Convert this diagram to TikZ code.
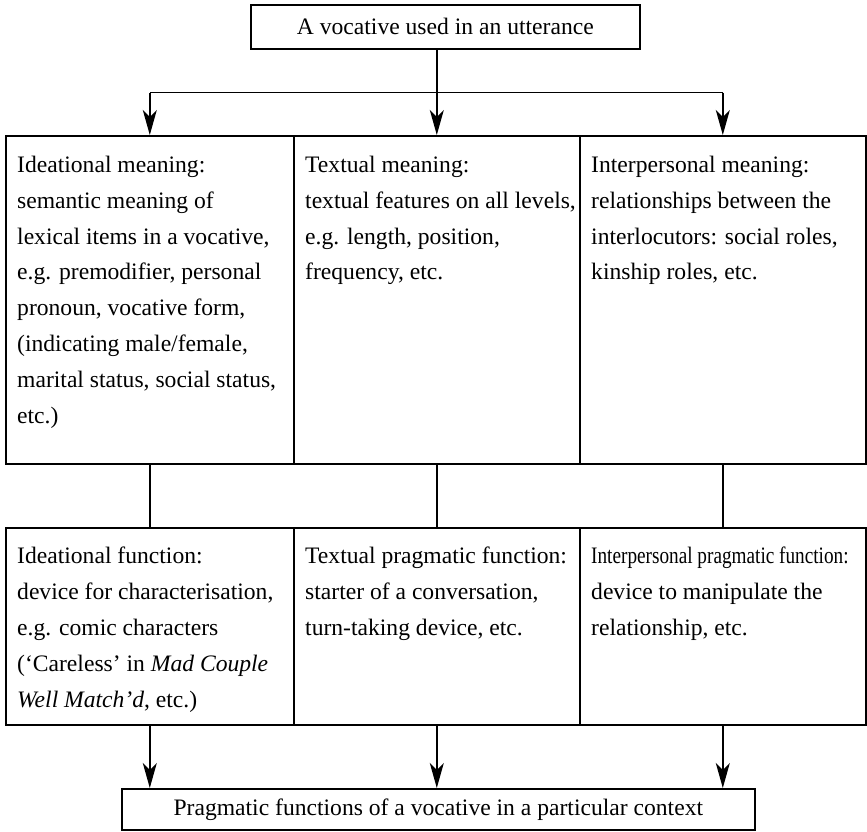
\documentclass[tikz,border=0pt]{standalone}
\usepackage{fontspec}
\setmainfont{Liberation Serif}
\usetikzlibrary{arrows.meta}
\begin{document}
\begin{tikzpicture}[x=1pt,y=-1pt,
  box/.style={draw, line width=1.6pt, inner sep=0pt, anchor=north west},
  txt/.style={anchor=north west, inner sep=0pt, align=left, font=\fontsize{23.6pt}{35.8pt}\selectfont},
  conn/.style={line width=1.6pt},
  arr/.style={conn, -{Stealth[length=25pt,width=14pt,inset=7pt]}}]
\useasboundingbox (0,0) rectangle (867,831);
% boxes
\node[box, minimum width=389pt, minimum height=44pt, font=\fontsize{23.6pt}{28pt}\selectfont] (top) at (250,4) {A vocative used in an utterance};
\node[box, minimum width=288pt, minimum height=328pt] (ul) at (5,135) {};
\node[box, minimum width=286pt, minimum height=328pt] (um) at (293,135) {};
\node[box, minimum width=286pt, minimum height=328pt] (ur) at (579,135) {};
\node[box, minimum width=288pt, minimum height=197pt] (ll) at (5,527) {};
\node[box, minimum width=286pt, minimum height=197pt] (lm) at (293,527) {};
\node[box, minimum width=286pt, minimum height=197pt] (lr) at (579,527) {};
\node[box, minimum width=633pt, minimum height=41pt, font=\fontsize{23.6pt}{28pt}\selectfont] (bot) at (121,788) {Pragmatic functions of a vocative in a particular context};
% texts
\node[txt] (ult) at (17,156) {Ideational meaning:\\semantic meaning of\\lexical items in a vocative,\\e.g. premodifier, personal\\pronoun, vocative form,\\(indicating male/female,\\marital status, social status,\\etc.)};
\node[txt] (umt) at (305,156) {Textual meaning:\\textual features on all levels,\\e.g. length, position,\\frequency, etc.};
\node[txt] (urt) at (591,156) {Interpersonal meaning:\\relationships between the\\interlocutors: social roles,\\kinship roles, etc.};
\node[txt] (llt) at (17,547) {Ideational function:\\device for characterisation,\\e.g. comic characters\\(‘Careless’ in \textit{Mad Couple}\\\textit{Well Match’d}, etc.)};
\node[txt] (lmt) at (305,547) {Textual pragmatic function:\\starter of a conversation,\\turn-taking device, etc.};
\node[txt] (lrt) at (591,547) {\scalebox{0.815}[1]{Interpersonal pragmatic function:}\\device to manipulate the\\relationship, etc.};
% connectors
\path (top.south -| um.north) ++(0,43) coordinate (j);
\draw[conn] (top.south -| um.north) -- (j);
\draw[arr] (j) -- (um.north);
\draw[conn] (j -| ul.north) -- (j -| ur.north);
\draw[arr] (j -| ul.north) -- (ul.north);
\draw[arr] (j -| ur.north) -- (ur.north);
\draw[conn] (ul.south) -- (ll.north);
\draw[conn] (um.south) -- (lm.north);
\draw[conn] (ur.south) -- (lr.north);
\draw[arr] (ll.south) -- (ll.south |- bot.north);
\draw[arr] (lm.south) -- (lm.south |- bot.north);
\draw[arr] (lr.south) -- (lr.south |- bot.north);
\end{tikzpicture}
\end{document}
